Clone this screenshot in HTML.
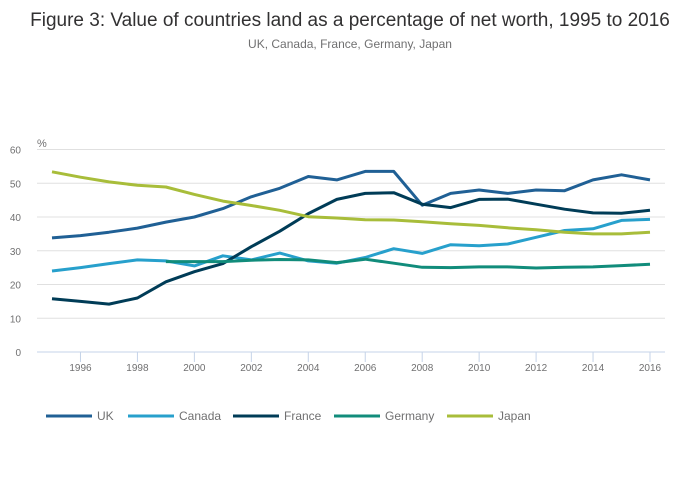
<!DOCTYPE html>
<html><head><meta charset="utf-8"><style>
body{margin:0;background:#fff;font-family:"Liberation Sans",sans-serif}
svg{display:block}
</style></head><body>
<svg width="700" height="502" xmlns="http://www.w3.org/2000/svg" id="c">
<text x="350" y="26" text-anchor="middle" font-size="19" fill="#323132">Figure 3: Value of countries land as a percentage of net worth, 1995 to 2016</text>
<text x="350" y="48" text-anchor="middle" font-size="12" fill="#707071">UK, Canada, France, Germany, Japan</text>
<text x="37" y="147" font-size="11" fill="#707071">%</text>
<g id="grid"></g><g id="xax"></g><g id="lines"></g><g id="legend"></g>
</svg>
<script>
const years=[1995,1996,1997,1998,1999,2000,2001,2002,2003,2004,2005,2006,2007,2008,2009,2010,2011,2012,2013,2014,2015,2016];
const yTicks=[0,10,20,30,40,50,60];
const xTicks=[1996,1998,2000,2002,2004,2006,2008,2010,2012,2014,2016];
const seriesNames=["UK","Canada","France","Germany","Japan"];
const seriesColors=["#206095","#27a0cc","#003c57","#118c7b","#a8bd3a"];
const uk=[33.8,34.5,35.5,36.7,38.5,40,42.5,46,48.5,52,51,53.5,53.5,43.5,47,48,47,48,47.8,51,52.5,51];
const canada=[24,25,26.2,27.3,27,25.5,28.5,27.3,29.3,27,26.3,28,30.6,29.2,31.8,31.5,32,34,36,36.5,39,39.3];
const france=[15.8,15,14.2,16,20.8,23.8,26.2,31.2,35.8,41,45.2,47,47.2,43.8,42.8,45.2,45.3,43.8,42.3,41.2,41.1,42];
const germany=[null,null,null,null,26.8,26.8,26.8,27.2,27.4,27.3,26.5,27.5,26.3,25.1,25,25.2,25.2,24.9,25.1,25.2,25.6,26];
const japan=[53.4,51.8,50.4,49.4,48.9,46.7,44.7,43.4,42,40.1,39.7,39.2,39.1,38.6,38,37.5,36.8,36.2,35.5,35,35,35.5];
const allSeries=[uk,canada,france,germany,japan];
const NS="http://www.w3.org/2000/svg";
const X=y=>52+(y-1995)*(650-52)/21;
const Y=v=>352-v*(352-149.5)/60;
function mk(t,a,p){const e=document.createElementNS(NS,t);for(const k in a)e.setAttribute(k,a[k]);p.appendChild(e);return e;}
const grid=document.getElementById('grid');
yTicks.forEach(v=>{
 const l=mk('line',{x1:37,x2:665,y1:Y(v),y2:Y(v),stroke:v===0?'#c5d3e8':'#e0e0e0','stroke-width':1},grid);
 
 
 const t=mk('text',{x:21,y:Y(v)+4,'text-anchor':'end','font-size':10,fill:'#707071'},grid);
 t.textContent=v;
 
 
});
const xax=document.getElementById('xax');
xTicks.forEach(y=>{
 const l=mk('line',{x1:X(y),x2:X(y),y1:352,y2:362,stroke:'#c5d3e8'},xax);
 
 
 const t=mk('text',{x:X(y),y:371,'text-anchor':'middle','font-size':10,fill:'#707071'},xax);
 t.textContent=y;
 
 
});
const lines=document.getElementById('lines');
allSeries.forEach((s,i)=>{
 let d='',pen=false;
 s.forEach((v,j)=>{if(v==null){pen=false;return;}d+=(pen?'L':'M')+X(years[j]).toFixed(1)+','+Y(v).toFixed(1);pen=true;});
 const p=mk('path',{d:d,fill:'none',stroke:seriesColors[i],'stroke-width':3,'stroke-linejoin':'round'},lines);
 
 
});
const lg=document.getElementById('legend');
const lx=[46,128,233,334,447];
seriesNames.forEach((n,i)=>{
 const l=mk('line',{x1:lx[i],x2:lx[i]+46,y1:416,y2:416,stroke:seriesColors[i],'stroke-width':3},lg);
 
 
 const t=mk('text',{x:lx[i]+51,y:420,'font-size':12,fill:'#707071'},lg);
 t.textContent=n;
 
 
});
</script>
</body></html>
